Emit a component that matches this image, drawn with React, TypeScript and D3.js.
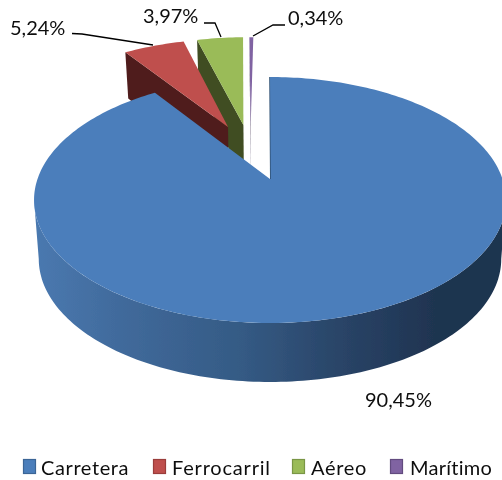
import React from "react";
import * as d3 from "d3";

const categories = ["Carretera", "Ferrocarril", "Aéreo", "Marítimo"];
const shares = [90.45, 5.24, 3.97, 0.34];
const topColors = ["#4b7ebb", "#bf504d", "#9abb59", "#8064a2"];
const wallColors = ["#1f3552", "#4f1f1e", "#3f4d22", "#3d2f50"];
const legendBorders = ["#3a6596", "#9a3e3b", "#7a9645", "#624b7f"];

const labelPos = [
  { x: 365, y: 407, path: null },
  { x: 10, y: 35, path: [[72, 33.5], [82, 34], [153, 45]] },
  { x: 143, y: 23, path: [[204, 23], [215, 23], [221, 37]] },
  { x: 288, y: 25, path: [[285, 25], [273, 25], [253, 36]] },
];
const legendSwatchX = [23.5, 153.5, 292.5, 390.5];
const legendTextX = [41, 172, 311, 410];
const legendSpacing = [0.6, 0.8, 0.7, 0.25];
// slice displacement in the plane of the pie
const offsets = [[0, 0], [-0.195, 0.47], [-0.124, 0.49], [-0.09, 0.49]];
const sideStops = [
  [0, "#4a79b0"], [0.2, "#40699a"], [0.45, "#345a84"], [0.65, "#2a4568"], [0.78, "#233a5a"], [0.86, "#1f3450"], [1, "#1f3450"],
];

const W = 502, H = 480;
const CX = 270, CY = 179, A = 232.5, B = 119.4, K = 0.1707;

// perspective projection of the tilted pie plane
const project = (u: number, v: number): [number, number] => {
  const d = 1 + K * v;
  return [CX + (A * u) / d, CY - (B * v) / d];
};
const drop = ([x, y]: [number, number]): [number, number] => [
  CX + (x - CX) * 0.98,
  y + Math.min(59, 46 + (y - 52) * 0.13),
];

const pieGen = d3.pie<number>().sort(null).startAngle(0).endAngle(2 * Math.PI);
const arcs = pieGen(shares);
const fmt = d3.formatLocale({ decimal: ",", thousands: ".", grouping: [3], currency: ["", ""] }).format(".2f");
const line = d3.line<[number, number]>();

const rim = (a0: number, a1: number, off: number[]) => {
  const n = Math.max(2, Math.ceil((a1 - a0) / 0.02));
  return d3.range(n + 1).map((i) => {
    const a = a0 + ((a1 - a0) * i) / n;
    return project(off[0] + Math.sin(a), off[1] + Math.cos(a));
  });
};

export default function App() {
  const font = "Lato, Carlito, sans-serif";
  const blue = arcs[0];
  const blueRim = rim(blue.startAngle, blue.endAngle, offsets[0]);
  // silhouette runs between the widest points of the perspective ellipse
  const widest = Math.acos(-K);
  const sideTop = rim(widest, 2 * Math.PI - widest, offsets[0]);
  const sidePath = line([...sideTop, ...sideTop.slice().reverse().map(drop)]) + "Z";
  const order = [3, 2, 1];
  return (
    <svg width={W} height={H} style={{ position: "absolute", left: 0, top: 0, background: "#fff" }}>
      <defs>
        <linearGradient id="side" gradientUnits="userSpaceOnUse" x1={34} x2={500} y1={0} y2={0}>
          {sideStops.map(([o, c]) => <stop key={o as number} offset={o as number} stopColor={c as string} />)}
        </linearGradient>
        <filter id="soft" x="0" y="0" width="100%" height="100%" filterUnits="userSpaceOnUse">
          <feGaussianBlur stdDeviation={0.4} />
        </filter>
      </defs>
      <g filter="url(#soft)">
        {order.map((i) => {
          const a = arcs[i];
          const off = offsets[i];
          const tip = project(off[0], off[1]);
          const r = rim(a.startAngle, a.endAngle, off);
          const wallA = r[0];
          return (
            <g key={i}>
              <path d={line([wallA, tip, drop(tip), drop(wallA)]) + "Z"} fill={wallColors[i]} />
              <path d={line([tip, ...r]) + "Z"} fill={topColors[i]} />
            </g>
          );
        })}
        <path d={sidePath} fill="url(#side)" />
        <path d={line([project(0, 0), ...blueRim]) + "Z"} fill={topColors[0]} />
        <line x1={269.5} y1={77} x2={270.5} y2={179} stroke="#2f5074" strokeWidth={0.8} />
        {labelPos.map((l, i) => (
          <g key={i}>
            {l.path && <path d={line(l.path as [number, number][]) as string} fill="none" stroke="#000" strokeWidth={1.3} />}
            <text x={l.x} y={l.y} fontFamily={font} fontSize={20} fill="#111">{fmt(shares[i])}%</text>
          </g>
        ))}
        {categories.map((c, i) => (
          <g key={c}>
            <rect x={legendSwatchX[i]} y={459.5} width={12} height={14} fill={topColors[i]} stroke={legendBorders[i]} strokeWidth={1.2} />
            <text x={legendTextX[i]} y={475} fontFamily={font} fontSize={20} letterSpacing={legendSpacing[i]} fill="#111">{c}</text>
          </g>
        ))}
      </g>
    </svg>
  );
}
